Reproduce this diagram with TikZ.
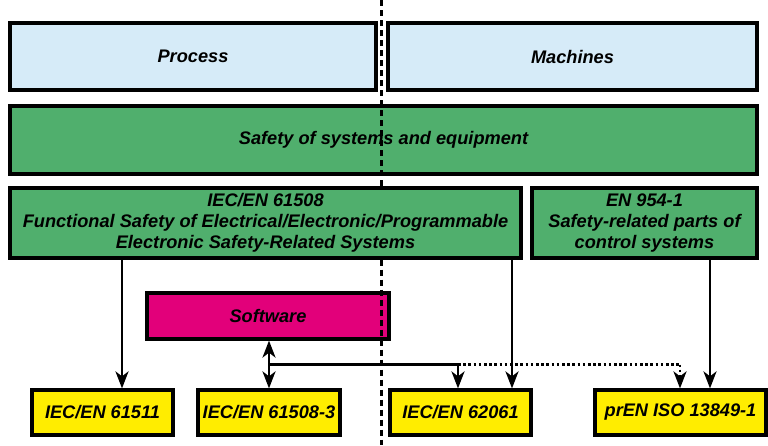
\documentclass[tikz,border=0pt]{standalone}
\usepackage{fontspec}
\setmainfont{Liberation Sans}
\usepackage{tikz}
\usetikzlibrary{arrows.meta}

\definecolor{procblue}{HTML}{D6EBF8}
\definecolor{safegreen}{HTML}{50AF6D}
\definecolor{softpink}{HTML}{E2007A}
\definecolor{normyellow}{HTML}{FFED00}

\begin{document}
\begin{tikzpicture}[x=1pt, y=-1pt,
	box/.style={draw=black, line width=3.2pt, rectangle, inner sep=0pt, align=center,
		font=\bfseries\itshape\fontsize{18.2}{21}\selectfont},
	tip/.style={-{Stealth[length=17pt, width=13pt, inset=5pt]}},
	arr/.style={line width=2.6pt, tip},
	divider/.style={line width=2.4pt, dash pattern=on 6pt off 4pt}]
	\useasboundingbox (0, 0) rectangle (768, 445);

	\node[box, fill=procblue, minimum width=366, minimum height=67] (process) at (193, 56.5) {Process};
	\node[box, fill=procblue, minimum width=369, minimum height=67] (machines) at (572.5, 56.5) {Machines};
	\node[box, fill=safegreen, minimum width=747, minimum height=68] (safety) at (383.5, 140) {Safety of systems and equipment};

	\node[box, fill=safegreen, minimum width=511, minimum height=70] (iec61508) at (265.5, 223)
		{IEC/EN 61508\\Functional Safety of Electrical/Electronic/Programmable\\Electronic Safety-Related Systems};
	\node[box, fill=safegreen, minimum width=225, minimum height=70] (en954) at (644.5, 223)
		{EN 954-1\\Safety-related parts of\\control systems};

	\node[box, fill=softpink, minimum width=242, minimum height=46] (software) at (268, 316) {Software};

	\node[box, fill=normyellow, minimum width=141, minimum height=45] (iec61511) at (102.5, 412.5) {IEC/EN 61511};
	\node[box, fill=normyellow, minimum width=142, minimum height=45] (iec615083) at (269, 412.5) {IEC/EN 61508-3};
	\node[box, fill=normyellow, minimum width=141, minimum height=45] (iec62061) at (460.5, 412.5) {IEC/EN 62061};
	\node[box, fill=normyellow, minimum width=171, minimum height=45] (iso13849) at (680.5, 412.5) {prEN ISO 13849-1};

	% dividing line between process and machines
	\coordinate (divtop) at (381.5, 0);
	\coordinate (divbot) at (381.5, 445);
	\draw[divider] (divtop) -- (divtop |- iec61508.north);
	\draw[divider] (divtop |- iec61508.south) -- (divbot);

	% standards
	\coordinate (c1) at (122, 0);
	\coordinate (c2) at (512, 0);
	\coordinate (c3) at (710, 0);
	\draw[arr] (iec61508.south -| c1) -- (iec61511.north -| c1);
	\draw[arr] (iec61508.south -| c2) -- (iec62061.north -| c2);
	\draw[arr] (en954.south -| c3) -- (iso13849.north -| c3);

	% software
	\coordinate (junc) at (269, 364.5);
	\coordinate (c4) at (458, 364.5);
	\coordinate (c5) at (680, 364.5);
	\draw[arr, {Stealth[length=17pt, width=13pt, inset=5pt]}-{Stealth[length=17pt, width=13pt, inset=5pt]}]
		(software.south -| junc) -- (iec615083.north -| junc);
	\draw[line width=2.6pt] (junc) -- (c4);
	\draw[arr] (c4) -- (iec62061.north -| c4);
	\draw[line width=2.6pt, dash pattern=on 2.6pt off 2.6pt] (c4) -- (c5);
	\draw[arr, dash pattern=on 2.6pt off 2.6pt] (c5) -- (iso13849.north -| c5);
\end{tikzpicture}
\end{document}
